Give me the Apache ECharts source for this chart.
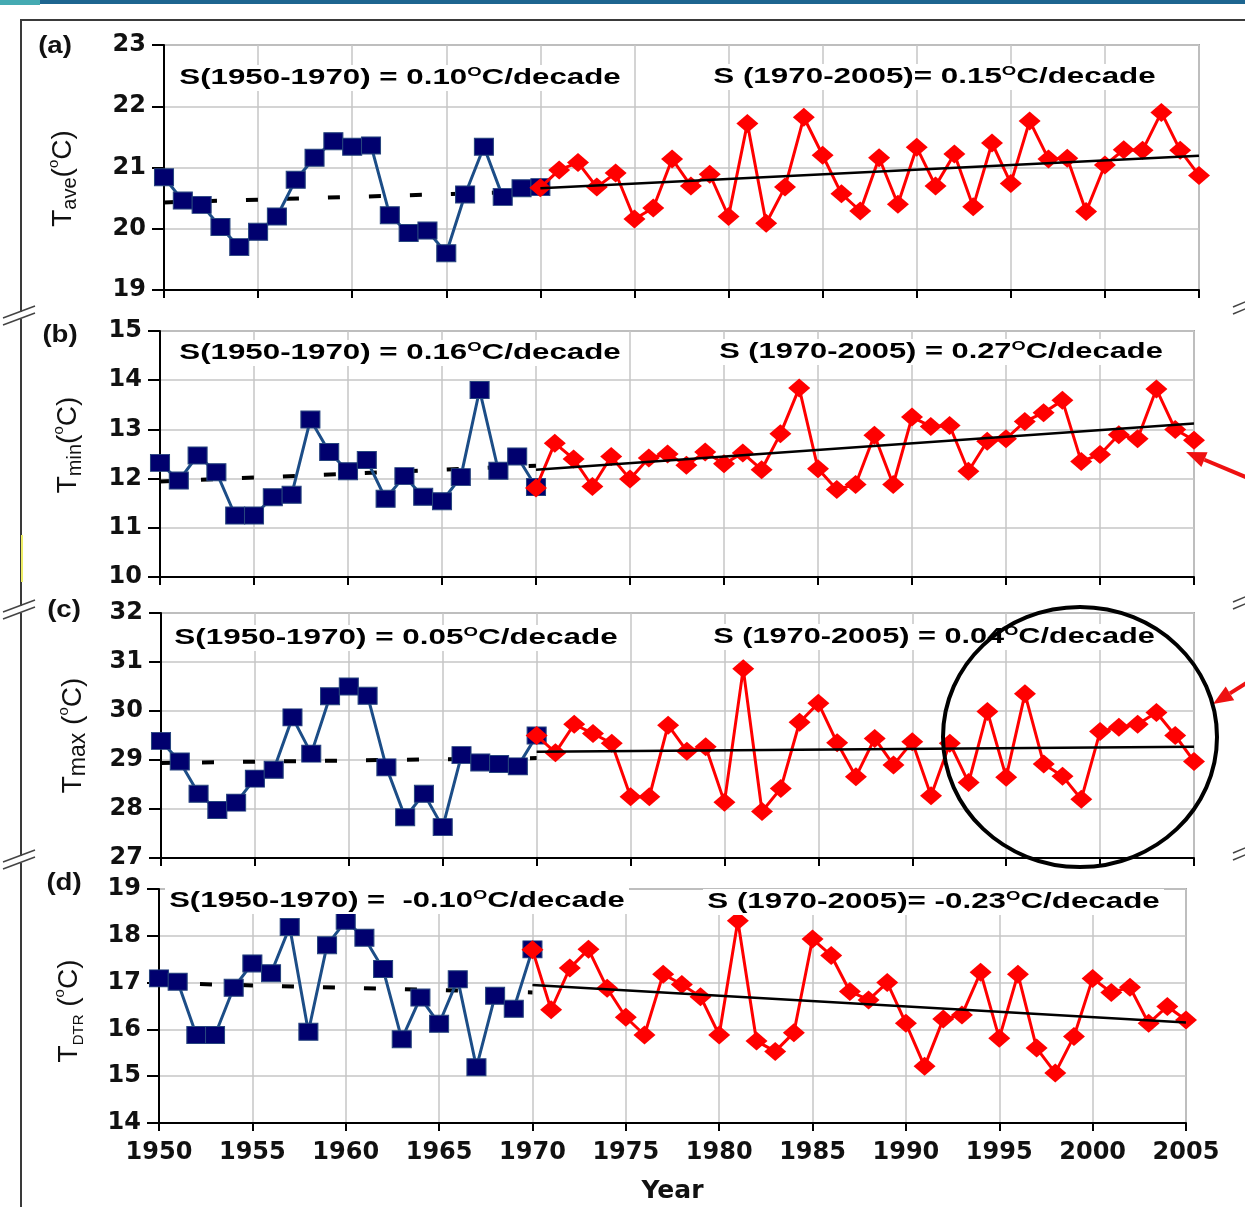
<!DOCTYPE html>
<html><head><meta charset="utf-8">
<script src="https://cdn.jsdelivr.net/npm/echarts@6/dist/echarts.min.js"></script>
<style>html,body{margin:0;padding:0;background:#fff}#c{width:1245px;height:1207px}</style>
</head><body><div id="c"></div>
<script>
// ---------------- DATA ----------------
const yearsEarly = [1950,1951,1952,1953,1954,1955,1956,1957,1958,1959,1960,1961,1962,1963,1964,1965,1966,1967,1968,1969,1970];
const yearsLate = [1970,1971,1972,1973,1974,1975,1976,1977,1978,1979,1980,1981,1982,1983,1984,1985,1986,1987,1988,1989,1990,1991,1992,1993,1994,1995,1996,1997,1998,1999,2000,2001,2002,2003,2004,2005];
const trendYearsEarly = [1950, 1970];
const trendYearsLate = [1970, 2005];

const tAveEarly = [20.84,20.46,20.39,20.03,19.70,19.95,20.20,20.80,21.16,21.43,21.34,21.36,20.22,19.93,19.97,19.60,20.56,21.34,20.52,20.66,20.68];
const tAveLate = [20.67,20.96,21.08,20.68,20.91,20.16,20.34,21.14,20.70,20.89,20.20,21.72,20.09,20.68,21.82,21.20,20.57,20.29,21.16,20.40,21.33,20.70,21.22,20.36,21.40,20.74,21.76,21.14,21.15,20.28,21.04,21.29,21.28,21.90,21.28,20.87];
const tAveTrendEarly = [20.43, 20.61];
const tAveTrendLate = [20.66, 21.19];

const tMinEarly = [12.32,11.96,12.47,12.13,11.25,11.25,11.62,11.67,13.20,12.54,12.15,12.38,11.59,12.05,11.63,11.54,12.03,13.80,12.16,12.45,11.83];
const tMinLate = [11.81,12.72,12.40,11.84,12.45,11.99,12.42,12.50,12.27,12.54,12.30,12.52,12.18,12.91,13.84,12.20,11.78,11.88,12.88,11.88,13.25,13.06,13.08,12.15,12.76,12.81,13.16,13.34,13.59,12.35,12.49,12.89,12.81,13.82,13.00,12.78];
const tMinTrendEarly = [11.94, 12.26];
const tMinTrendLate = [12.18, 13.12];

const tMaxEarly = [29.39,28.97,28.31,27.98,28.13,28.62,28.80,29.87,29.13,30.30,30.50,30.31,28.85,27.83,28.31,27.63,29.10,28.95,28.92,28.87,29.50];
const tMaxLate = [29.50,29.15,29.73,29.54,29.34,28.25,28.25,29.71,29.18,29.27,28.14,30.86,27.95,28.42,29.77,30.16,29.35,28.66,29.44,28.90,29.37,28.27,29.34,28.54,29.99,28.65,30.35,28.92,28.67,28.20,29.58,29.67,29.73,29.97,29.50,28.97];
const tMaxTrendEarly = [28.94, 29.04];
const tMaxTrendLate = [29.17, 29.27];

const tDtrEarly = [17.09,17.02,15.88,15.88,16.89,17.41,17.20,18.19,15.95,17.80,18.32,17.96,17.29,15.79,16.68,16.12,17.07,15.19,16.72,16.44,17.71];
const tDtrLate = [17.70,16.42,17.31,17.71,16.88,16.26,15.88,17.18,16.96,16.70,15.88,18.32,15.75,15.53,15.93,17.93,17.58,16.81,16.63,17.00,16.13,15.21,16.22,16.31,17.22,15.81,17.18,15.60,15.07,15.85,17.09,16.79,16.90,16.13,16.49,16.20];
const tDtrTrendEarly = [16.99, 16.79];
const tDtrTrendLate = [16.95, 16.15];

const yMins = [19, 10, 27, 14];
const yMaxs = [23, 15, 32, 19];
const panelLetters = ['(a)', '(b)', '(c)', '(d)'];
const yNames = [
  '{T|T}{s|ave}{T|(}{o|o}{T|C)}',
  '{T|T}{s|min}{T|(}{o|o}{T|C)}',
  '{T|T}{m|max}{T| (}{o|o}{T|C)}',
  '{T|T}{d|DTR}{T| (}{o|o}{T|C)}'
];
const annLeftText = ['S(1950-1970) = 0.10', 'S(1950-1970) = 0.16', 'S(1950-1970) = 0.05', 'S(1950-1970) =  -0.10'];
const annRightText = ['S (1970-2005)= 0.15', 'S (1970-2005) = 0.27', 'S (1970-2005) = 0.04', 'S (1970-2005)= -0.23'];
const annUnit = 'C/decade';
const xAxisTitle = 'Year';

// ---------------- LAYOUT ----------------
const grids = [
  {left:164, top:45,  width:1035, height:245},
  {left:160, top:331, width:1034, height:246},
  {left:161, top:613, width:1033, height:245},
  {left:159, top:889, width:1027, height:234}
];
const nameGaps = [84, 75, 71, 73];
const namePads = [[0,22,0,0],[0,0,0,18],[0,0,0,0],[0,10,0,0]];
const letterPos = [[55,46],[60,335],[64,610],[64,883]];
const annLeftPos = [[178,78,450],[178,353,450],[173,638,452],[168,901,464]];
const annRightPos = [[712,77,451],[718,352,452],[712,637,450],[706,902,461]];

const early = [tAveEarly, tMinEarly, tMaxEarly, tDtrEarly];
const late = [tAveLate, tMinLate, tMaxLate, tDtrLate];
const trE = [tAveTrendEarly, tMinTrendEarly, tMaxTrendEarly, tDtrTrendEarly];
const trL = [tAveTrendLate, tMinTrendLate, tMaxTrendLate, tDtrTrendLate];

const pair = (xs, ys) => xs.map((x, i) => [x, ys[i]]);

const FONT = 'Liberation Sans';
const TICKFONT = 'DejaVu Sans';
const ctx = document.createElement('canvas').getContext('2d');
function tw(t, size, weight) { ctx.font = weight + ' ' + size + 'px "' + FONT + '"'; return ctx.measureText(t).width; }

const annRich = {
  b: {fontSize: 22, fontWeight: 'bold', fontFamily: FONT, color: '#000', lineHeight: 24},
  o: {fontSize: 13, fontWeight: 'bold', fontFamily: FONT, color: '#000', verticalAlign: 'top', lineHeight: 14}
};
function annotation(pre, pos) {
  const natural = tw(pre, 22, 'bold') + tw('O', 13, 'bold') + tw(annUnit, 22, 'bold') + 6;
  return {
    type: 'text', x: pos[0] - 3, y: pos[1], scaleX: pos[2] / natural, z: 50,
    style: {
      text: '{b|' + pre + '}{o|O}{b|' + annUnit + '}', rich: annRich,
      align: 'left', verticalAlign: 'middle', backgroundColor: '#fff', padding: [1, 3, 1, 3]
    }
  };
}

const xAxes = [], yAxes = [], series = [];
for (let i = 0; i < 4; i++) {
  const last = i === 3;
  xAxes.push({
    gridIndex: i, type: 'value', min: 1950, max: 2005, interval: 5,
    axisLine: {show: true, lineStyle: {color: '#000', width: 2}},
    axisTick: {show: true, length: 8, lineStyle: {color: '#000', width: 2}},
    axisLabel: {show: last, fontSize: 24, fontWeight: 'bold', fontFamily: TICKFONT, color: '#111', margin: 18, formatter: v => String(v)},
    splitLine: {show: true, lineStyle: {color: '#c6c6c6', width: 1.5}},
    name: last ? xAxisTitle : '', nameLocation: 'middle', nameGap: 56,
    nameTextStyle: {fontSize: 25, fontWeight: 'bold', fontFamily: TICKFONT, color: '#111'}
  });
  yAxes.push({
    gridIndex: i, type: 'value', min: yMins[i], max: yMaxs[i], interval: 1,
    axisLine: {show: true, lineStyle: {color: '#000', width: 2}},
    axisTick: {show: true, length: 12, lineStyle: {color: '#000', width: 2}},
    axisLabel: {fontSize: 24, fontWeight: 'bold', fontFamily: TICKFONT, color: '#111', margin: 18},
    splitLine: {show: true, lineStyle: {color: '#c6c6c6', width: 1.5}},
    name: yNames[i], nameLocation: 'middle', nameRotate: 90, nameGap: nameGaps[i],
    nameTextStyle: {
      color: '#111', fontFamily: FONT, padding: namePads[i],
      rich: {
        T: {fontSize: 28, fontFamily: FONT, color: '#111', lineHeight: 34},
        s: {fontSize: 20, fontFamily: FONT, color: '#111', verticalAlign: 'bottom', lineHeight: 20},
        m: {fontSize: 23, fontFamily: FONT, color: '#111', verticalAlign: 'bottom', lineHeight: 26},
        d: {fontSize: 15, fontFamily: FONT, color: '#111', verticalAlign: 'bottom', lineHeight: 16},
        o: {fontSize: 15, fontFamily: FONT, color: '#111', verticalAlign: 'top', lineHeight: 15}
      }
    }
  });
  series.push({
    type: 'line', xAxisIndex: i, yAxisIndex: i, data: pair(trendYearsEarly, trE[i]),
    symbol: 'none', z: 2, lineStyle: {color: '#000', width: 4, type: [12, 29]}
  });
  series.push({
    type: 'line', xAxisIndex: i, yAxisIndex: i, data: pair(yearsEarly, early[i]),
    symbol: 'rect', symbolSize: [19, 17], z: 3,
    itemStyle: {color: '#00006e', borderColor: '#27457e', borderWidth: 1},
    lineStyle: {color: '#1c4d87', width: 3}
  });
  series.push({
    type: 'line', xAxisIndex: i, yAxisIndex: i, data: pair(yearsLate, late[i]),
    symbol: 'diamond', symbolSize: [22, 19], z: 4,
    itemStyle: {color: '#ff0000'}, lineStyle: {color: '#ff0000', width: 3}
  });
  series.push({
    type: 'line', xAxisIndex: i, yAxisIndex: i, data: pair(trendYearsLate, trL[i]),
    symbol: 'none', z: 5, lineStyle: {color: '#000', width: 2.5}
  });
}

// ---------------- DECORATION ----------------
const graphics = [];
graphics.push({type: 'rect', shape: {x: 0, y: 0, width: 1245, height: 4}, style: {fill: '#1d6590'}, z: 1});
graphics.push({type: 'rect', shape: {x: 0, y: 0, width: 40, height: 5}, style: {fill: '#45aab2'}, z: 1});
graphics.push({type: 'line', shape: {x1: 20, y1: 20, x2: 1245, y2: 20}, style: {stroke: '#3a3a3a', lineWidth: 2}, z: 1});
graphics.push({type: 'line', shape: {x1: 21, y1: 20, x2: 21, y2: 1207}, style: {stroke: '#3a3a3a', lineWidth: 2}, z: 1});
graphics.push({type: 'line', shape: {x1: 22, y1: 535, x2: 22, y2: 582}, style: {stroke: '#eeee66', lineWidth: 2}, z: 2});
[316, 610, 860].forEach(y => {
  graphics.push({type: 'rect', shape: {x: 16, y: y - 4, width: 10, height: 7}, style: {fill: '#fff'}, z: 3});
  graphics.push({type: 'line', shape: {x1: 3, y1: y + 2, x2: 35, y2: y - 10}, style: {stroke: '#444', lineWidth: 1.5}, z: 4});
  graphics.push({type: 'line', shape: {x1: 3, y1: y + 9, x2: 35, y2: y - 3}, style: {stroke: '#444', lineWidth: 1.5}, z: 4});
});
[305, 600, 851].forEach(y => {
  graphics.push({type: 'line', shape: {x1: 1233, y1: y + 2, x2: 1250, y2: y - 5}, style: {stroke: '#444', lineWidth: 1.5}, z: 4});
  graphics.push({type: 'line', shape: {x1: 1233, y1: y + 9, x2: 1250, y2: y + 2}, style: {stroke: '#444', lineWidth: 1.5}, z: 4});
});
function arrow(tail, tip) {
  const dx = tip[0] - tail[0], dy = tip[1] - tail[1], L = Math.hypot(dx, dy);
  const ux = dx / L, uy = dy / L, hl = 20, hw = 8;
  const bx = tip[0] - ux * hl, by = tip[1] - uy * hl;
  graphics.push({type: 'line', shape: {x1: tail[0], y1: tail[1], x2: bx, y2: by}, style: {stroke: '#ee1111', lineWidth: 4}, z: 60});
  graphics.push({type: 'polygon', shape: {points: [tip, [bx - uy * hw, by + ux * hw], [bx + uy * hw, by - ux * hw]]}, style: {fill: '#ee1111'}, z: 60});
}
arrow([1248, 478], [1186, 452]);
arrow([1248, 682], [1213, 704]);
graphics.push({type: 'ellipse', shape: {cx: 1080, cy: 737, rx: 137, ry: 130}, style: {fill: 'none', stroke: '#000', lineWidth: 4}, z: 70});

for (let i = 0; i < 4; i++) {
  graphics.push({type: 'text', x: letterPos[i][0], y: letterPos[i][1], scaleX: 1.15, z: 50,
    style: {text: panelLetters[i], fontSize: 24, fontWeight: 'bold', fontFamily: FONT, fill: '#111', align: 'center', verticalAlign: 'middle'}});
  graphics.push(annotation(annLeftText[i], annLeftPos[i]));
  graphics.push(annotation(annRightText[i], annRightPos[i]));
}

const chart = echarts.init(document.getElementById('c'), null, {renderer: 'canvas'});
chart.setOption({
  animation: false,
  backgroundColor: '#fff',
  textStyle: {fontFamily: FONT},
  grid: grids.map(g => Object.assign({show: true, borderColor: '#a8a8a8', borderWidth: 2, backgroundColor: 'transparent'}, g)),
  xAxis: xAxes,
  yAxis: yAxes,
  series: series,
  graphic: {elements: graphics}
});
</script></body></html>
